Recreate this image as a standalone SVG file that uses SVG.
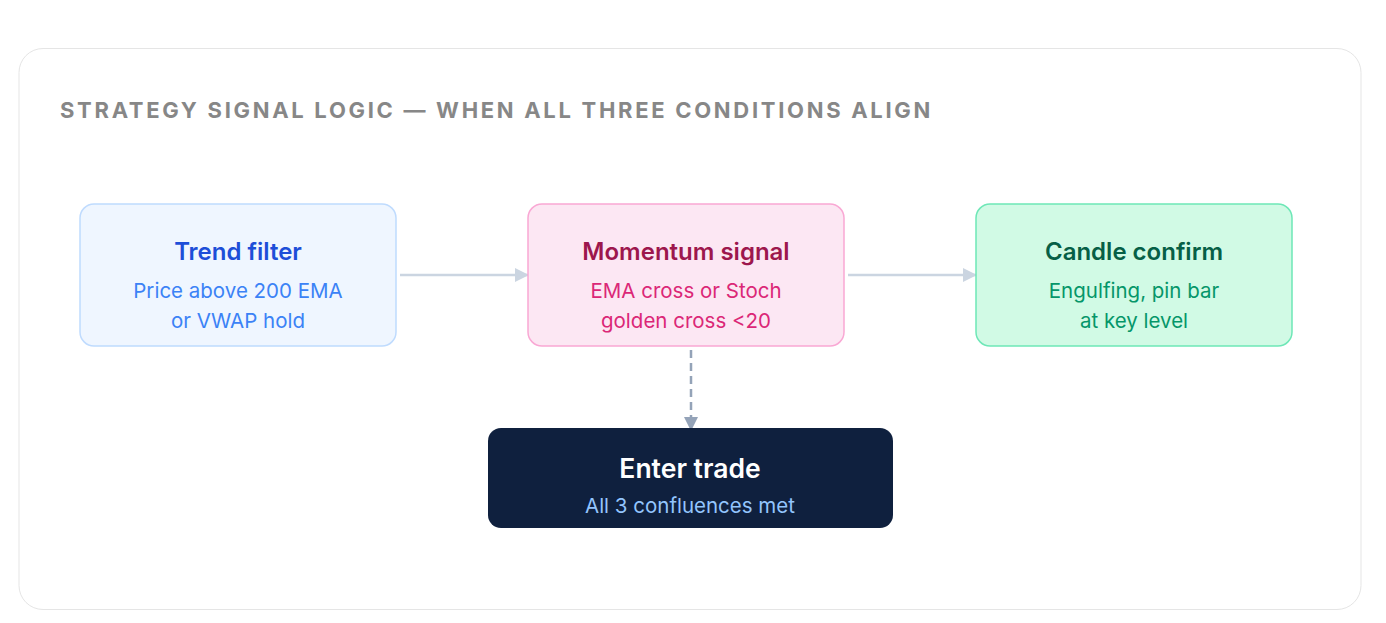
<svg xmlns="http://www.w3.org/2000/svg" width="1386" height="623" viewBox="0 0 1386 623">
<style>
.t{font-family:Inter,"Liberation Sans",sans-serif;text-anchor:middle}
.h{font-size:24px;font-weight:600}
.s{font-size:20.5px;font-weight:400}
.conn{stroke:#cbd5e1;stroke-width:2.5;fill:none}
</style>
<defs>
<marker id="ah" markerWidth="14" markerHeight="14" refX="13" refY="7" orient="auto" markerUnits="userSpaceOnUse"><path d="M0,0 L14,7 L0,14 Z" fill="#cbd5e1"/></marker>
<marker id="ahd" markerWidth="14" markerHeight="14" refX="13" refY="7" orient="auto" markerUnits="userSpaceOnUse"><path d="M0,0 L14,7 L0,14 Z" fill="#94a3b8"/></marker>
</defs>
<rect x="0" y="0" width="1386" height="623" fill="#ffffff"/>
<rect x="19" y="48.5" width="1342" height="561" rx="24" fill="#ffffff" stroke="#e5e5e5" stroke-width="1"/>
<text x="60" y="118" font-family="Inter,'Liberation Sans',sans-serif" font-size="22" font-weight="700" letter-spacing="2.7" fill="#878787">STRATEGY SIGNAL LOGIC — WHEN ALL THREE CONDITIONS ALIGN</text>
<g id="connectors">
<line class="conn" x1="400" y1="275" x2="528" y2="275" marker-end="url(#ah)"/>
<line class="conn" x1="848" y1="275" x2="976" y2="275" marker-end="url(#ah)"/>
<line x1="691" y1="350" x2="691" y2="430" stroke="#94a3b8" stroke-width="2.5" stroke-dasharray="8 5" marker-end="url(#ahd)"/>
</g>
<g id="trend">
<rect x="80" y="204" width="316" height="142" rx="14" fill="#eff6ff" stroke="#bfdbfe" stroke-width="1.5"/>
<text class="t h" x="238" y="260" fill="#1d4ed8">Trend filter</text>
<text class="t s" x="238" y="298" fill="#3b82f6">Price above 200 EMA</text>
<text class="t s" x="238" y="328" fill="#3b82f6">or VWAP hold</text>
</g>
<g id="momentum">
<rect x="528" y="204" width="316" height="142" rx="14" fill="#fce7f3" stroke="#f9a8d4" stroke-width="1.5"/>
<text class="t h" x="686" y="260" fill="#9d174d">Momentum signal</text>
<text class="t s" x="686" y="298" fill="#db2777">EMA cross or Stoch</text>
<text class="t s" x="686" y="328" fill="#db2777">golden cross &lt;20</text>
</g>
<g id="candle">
<rect x="976" y="204" width="316" height="142" rx="14" fill="#d1fae5" stroke="#6ee7b7" stroke-width="1.5"/>
<text class="t h" x="1134" y="260" fill="#065f46">Candle confirm</text>
<text class="t s" x="1134" y="298" fill="#059669">Engulfing, pin bar</text>
<text class="t s" x="1134" y="328" fill="#059669">at key level</text>
</g>
<g id="enter">
<rect x="488" y="428" width="405" height="100" rx="13" fill="#0f203e"/>
<text class="t" x="690" y="478" font-size="26.5" font-weight="600" fill="#ffffff">Enter trade</text>
<text class="t s" x="690" y="513" fill="#93c5fd">All 3 confluences met</text>
</g>
</svg>
